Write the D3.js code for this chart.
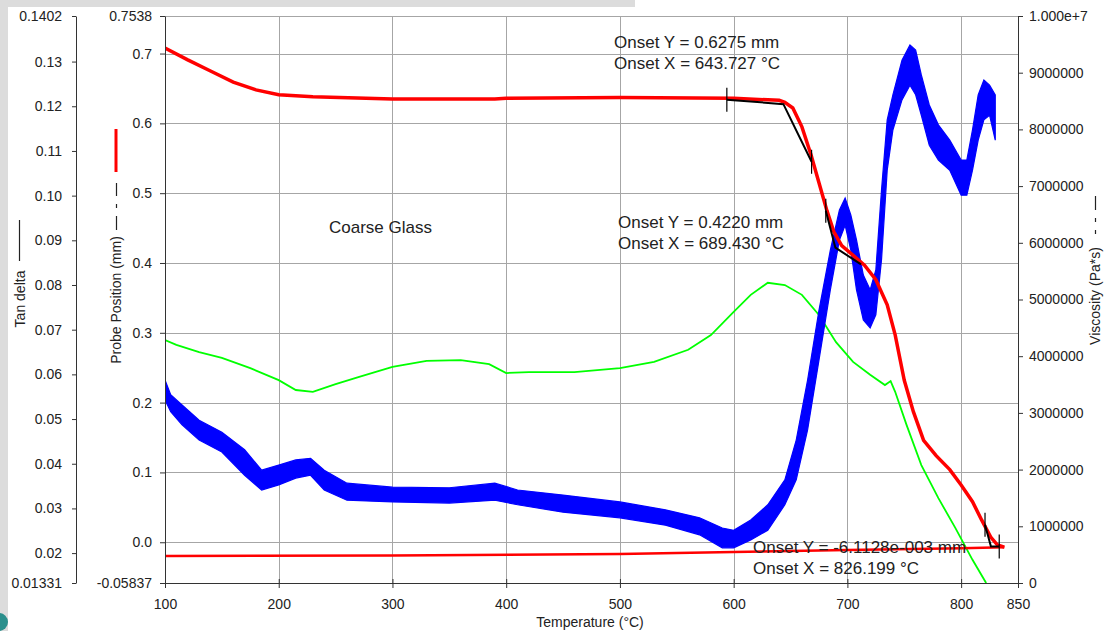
<!DOCTYPE html>
<html>
<head>
<meta charset="utf-8">
<script src="https://cdn.jsdelivr.net/npm/d3@7"></script>
<style>
  body { margin: 0; background: #fff; }
  svg { display: block; font-family: "Liberation Sans", Arial, sans-serif; }
  .axis text { font-size: 14px; fill: #222; }
  .axis path, .axis line { stroke: #333; }
  .grid line { stroke: #a6a6a6; stroke-width: 1; }
  .note { font-size: 17px; fill: #222; }
</style>
</head>
<body>
<svg id="chart" width="1104" height="631"></svg>
<script>
// ---- data ----
const tempTicks = [100, 200, 300, 400, 500, 600, 700, 800, 850];
const probeTicks = [-0.05837, 0, 0.1, 0.2, 0.3, 0.4, 0.5, 0.6, 0.7, 0.7538];
const probeTickLabels = ["-0.05837", "0.0", "0.1", "0.2", "0.3", "0.4", "0.5", "0.6", "0.7", "0.7538"];
const tanTicks = [0.01331, 0.02, 0.03, 0.04, 0.05, 0.06, 0.07, 0.08, 0.09, 0.10, 0.11, 0.12, 0.13, 0.1402];
const tanTickLabels = ["0.01331", "0.02", "0.03", "0.04", "0.05", "0.06", "0.07", "0.08", "0.09", "0.10", "0.11", "0.12", "0.13", "0.1402"];
const viscTicks = [0, 1e6, 2e6, 3e6, 4e6, 5e6, 6e6, 7e6, 8e6, 9e6, 1e7];
const viscTickLabels = ["0", "1000000", "2000000", "3000000", "4000000", "5000000", "6000000", "7000000", "8000000", "9000000", "1.000e+7"];

// probe position (mm), heating run
const probeTemp = [100, 120, 140, 160, 180, 200, 230, 300, 390, 400, 500, 600, 640, 645, 652, 660, 668, 675, 682, 688, 695,
                   705, 715, 725, 735, 742, 750, 758, 767, 778, 790, 800, 810, 818, 826, 832, 838];
const probePos = [0.708, 0.691, 0.675, 0.659, 0.648, 0.641, 0.638, 0.635, 0.635, 0.636, 0.637, 0.636, 0.633, 0.630, 0.622, 0.595, 0.555, 0.515, 0.475, 0.445, 0.425,
                  0.411, 0.397, 0.376, 0.340, 0.297, 0.232, 0.187, 0.146, 0.124, 0.104, 0.082, 0.058, 0.032, 0.0075, -0.004, -0.007];

// lower red trace
const baseTemp = [100, 300, 500, 600, 700, 800, 838];
const baseProbe = [-0.0197, -0.019, -0.017, -0.014, -0.011, -0.0085, -0.007];

// tan delta
const tanTemp = [100, 110, 130, 150, 175, 200, 215, 230, 250, 270, 300, 330, 360, 385, 400, 420, 460, 500, 530, 560,
                 580, 600, 615, 630, 645, 660, 675, 690, 705, 720, 733, 738, 742, 752, 765, 780, 795, 810, 822];
const tanDelta = [0.0677, 0.0666, 0.0650, 0.0637, 0.0614, 0.0587, 0.0565, 0.0561, 0.0578, 0.0594, 0.0617, 0.0630, 0.0632, 0.0623, 0.0603, 0.0605, 0.0605, 0.0614, 0.0628, 0.0655,
                  0.0688, 0.0740, 0.0778, 0.0805, 0.0800, 0.0778, 0.0733, 0.0672, 0.0628, 0.0599, 0.0576, 0.0585, 0.0561, 0.0487, 0.0397, 0.0323, 0.0256, 0.0185, 0.0133];

// viscosity (Pa*s), noisy trace kept as low / high envelope
const viscTemp = [100, 105, 115, 130, 150, 170, 185, 200, 215, 228, 240, 260, 300, 350, 390, 410, 450, 500, 540, 570,
                  590, 600, 615, 630, 645, 655, 665, 675, 685, 693, 698, 703, 708, 714, 720, 725, 730, 735, 740, 748,
                  755, 760, 765, 772, 780, 790, 800, 805, 810, 815, 820, 825, 830];
const viscHigh = [3.58e6, 3.32e6, 3.14e6, 2.87e6, 2.66e6, 2.35e6, 1.99e6, 2.08e6, 2.17e6, 2.20e6, 1.99e6, 1.76e6, 1.69e6, 1.68e6, 1.76e6, 1.64e6, 1.55e6, 1.43e6, 1.29e6, 1.15e6,
                  0.97e6, 0.93e6, 1.11e6, 1.38e6, 1.82e6, 2.52e6, 3.58e6, 4.81e6, 5.87e6, 6.58e6, 6.79e6, 6.49e6, 6.05e6, 5.43e6, 5.17e6, 5.52e6, 6.93e6, 8.17e6, 8.61e6, 9.22e6,
                  9.49e6, 9.40e6, 8.96e6, 8.43e6, 8.08e6, 7.81e6, 7.46e6, 7.46e6, 7.99e6, 8.61e6, 8.87e6, 8.78e6, 8.61e6];
const viscLow = [3.23e6, 3.02e6, 2.79e6, 2.52e6, 2.31e6, 1.90e6, 1.64e6, 1.73e6, 1.85e6, 1.90e6, 1.64e6, 1.46e6, 1.43e6, 1.41e6, 1.46e6, 1.38e6, 1.25e6, 1.15e6, 1.02e6, 0.85e6,
                 0.62e6, 0.62e6, 0.76e6, 0.93e6, 1.38e6, 1.82e6, 2.70e6, 3.93e6, 5.17e6, 6.05e6, 6.31e6, 5.87e6, 5.17e6, 4.64e6, 4.50e6, 4.73e6, 5.70e6, 7.28e6, 7.99e6, 8.52e6,
                 8.78e6, 8.61e6, 8.25e6, 7.72e6, 7.46e6, 7.28e6, 6.84e6, 6.84e6, 7.28e6, 7.81e6, 8.17e6, 8.25e6, 7.81e6];

// onset tangent constructions (temperature, probe position)
const onsetTemps = [[594, 643.727, 668.5], [681, 689.430, 712], [821, 826.199, 833.5]];
const onsetVals = [[0.634, 0.6275, 0.545], [0.475, 0.4220, 0.398], [0.025, -0.0061128, -0.0061128]];
const onsetText = [
  ["Onset Y = 0.6275 mm", "Onset X = 643.727 °C"],
  ["Onset Y = 0.4220 mm", "Onset X = 689.430 °C"],
  ["Onset Y = -6.1128e-003 mm", "Onset X = 826.199 °C"]
];

// ---- drawing ----
const svg = d3.select("#chart");
const mLeft = 165, mRight = 1018, mTop = 16, mBottom = 583;

const x = d3.scaleLinear().domain([100, 850]).range([mLeft, mRight]);
const yProbe = d3.scaleLinear().domain([-0.05837, 0.7538]).range([mBottom, mTop]);
const yTan = d3.scaleLinear().domain([0.01331, 0.1402]).range([mBottom, mTop]);
const yVisc = d3.scaleLinear().domain([0, 1e7]).range([mBottom, mTop]);

// page chrome (screenshot edges)
svg.append("rect").attr("x", 0).attr("y", 0).attr("width", 8).attr("height", 631).attr("fill", "#dcdcdc");
svg.append("rect").attr("x", 0).attr("y", 0).attr("width", 635).attr("height", 7).attr("fill", "#dcdcdc");
svg.append("circle").attr("cx", -1).attr("cy", 622).attr("r", 9).attr("fill", "#2a8f8c");

// grid
const grid = svg.append("g").attr("class", "grid");
grid.selectAll(".v").data(tempTicks.filter(d => d > 100 && d < 850)).enter().append("line")
  .attr("x1", d => Math.round(x(d)) + 0.5).attr("x2", d => Math.round(x(d)) + 0.5)
  .attr("y1", mTop).attr("y2", mBottom);
grid.selectAll(".h").data(probeTicks.filter(d => d >= 0 && d < 0.75)).enter().append("line")
  .attr("x1", mLeft).attr("x2", mRight)
  .attr("y1", d => Math.round(yProbe(d)) + 0.5).attr("y2", d => Math.round(yProbe(d)) + 0.5);
grid.append("line").attr("x1", mLeft).attr("x2", mRight).attr("y1", mTop + 0.5).attr("y2", mTop + 0.5);

// series
svg.append("clipPath").attr("id", "plot").append("rect")
  .attr("x", mLeft).attr("y", mTop).attr("width", mRight - mLeft + 2).attr("height", mBottom - mTop);
const plot = svg.append("g").attr("clip-path", "url(#plot)");

plot.append("path")
  .datum(tanTemp.map((t, i) => [t, tanDelta[i]]))
  .attr("fill", "none").attr("stroke", "#00ff00").attr("stroke-width", 1.8)
  .attr("d", d3.line().x(d => x(d[0])).y(d => yTan(d[1])));

const viscData = viscTemp.map((t, i) => ({ t, lo: viscLow[i], hi: viscHigh[i] }));
plot.append("path")
  .datum(viscData)
  .attr("fill", "#0000ff").attr("stroke", "#0000ff").attr("stroke-width", 1.2)
  .attr("d", d3.area().x(d => x(d.t)).y0(d => yVisc(d.lo)).y1(d => yVisc(d.hi)));

plot.append("path")
  .datum(baseTemp.map((t, i) => [t, baseProbe[i]]))
  .attr("fill", "none").attr("stroke", "#ff0000").attr("stroke-width", 2.5)
  .attr("d", d3.line().x(d => x(d[0])).y(d => yProbe(d[1])));

plot.append("path")
  .datum(probeTemp.map((t, i) => [t, probePos[i]]))
  .attr("fill", "none").attr("stroke", "#ff0000").attr("stroke-width", 3.5)
  .attr("d", d3.line().x(d => x(d[0])).y(d => yProbe(d[1])));

// onset constructions
onsetTemps.forEach((temps, k) => {
  const pts = temps.map((t, i) => [t, onsetVals[k][i]]);
  svg.append("path").datum(pts)
    .attr("fill", "none").attr("stroke", "#000").attr("stroke-width", 2)
    .attr("d", d3.line().x(d => x(d[0])).y(d => yProbe(d[1])));
  const ends = k === 1 ? [pts[0]] : [pts[0], pts[pts.length - 1]];
  svg.selectAll(null).data(ends).enter().append("line")
    .attr("x1", d => x(d[0])).attr("x2", d => x(d[0]))
    .attr("y1", d => yProbe(d[1]) - 12).attr("y2", d => yProbe(d[1]) + 12)
    .attr("stroke", "#000").attr("stroke-width", 1.2);
});

// axes
const xAxis = svg.append("g").attr("class", "axis")
  .attr("transform", `translate(0,${mBottom})`)
  .call(d3.axisBottom(x).tickValues(tempTicks).tickFormat(d3.format("d")).tickSize(5).tickSizeOuter(0).tickPadding(11));
xAxis.selectAll(".tick line").attr("y1", -4);

svg.append("g").attr("class", "axis")
  .attr("transform", `translate(${mLeft},0)`)
  .call(d3.axisLeft(yProbe).tickValues(probeTicks).tickFormat((d, i) => probeTickLabels[i]).tickSize(5).tickSizeOuter(0).tickPadding(8));

svg.append("g").attr("class", "axis")
  .attr("transform", "translate(76,0)")
  .call(d3.axisLeft(yTan).tickValues(tanTicks).tickFormat((d, i) => tanTickLabels[i]).tickSize(4).tickSizeOuter(0).tickPadding(10));

svg.append("g").attr("class", "axis")
  .attr("transform", `translate(${mRight},0)`)
  .call(d3.axisRight(yVisc).tickValues(viscTicks).tickFormat((d, i) => viscTickLabels[i]).tickSize(5).tickSizeOuter(0).tickPadding(6));

// axis titles with legend keys
svg.append("text").attr("transform", "translate(590,627)").attr("text-anchor", "middle")
  .style("font-size", "14px").attr("fill", "#222").text("Temperature (°C)");

svg.append("text").attr("transform", "translate(25,299) rotate(-90)").attr("text-anchor", "middle")
  .style("font-size", "14px").attr("fill", "#222").text("Tan delta");
svg.append("line").attr("x1", 19.5).attr("x2", 19.5).attr("y1", 220).attr("y2", 261).attr("stroke", "#222").attr("stroke-width", 1.2);

svg.append("text").attr("transform", "translate(121,300) rotate(-90)").attr("text-anchor", "middle")
  .style("font-size", "14px").attr("fill", "#222").text("Probe Position (mm)");
svg.append("line").attr("x1", 116.5).attr("x2", 116.5).attr("y1", 183).attr("y2", 230)
  .attr("stroke", "#222").attr("stroke-width", 1.2).attr("stroke-dasharray", "13,8,4,8,14");
svg.append("line").attr("x1", 116).attr("x2", 116).attr("y1", 129).attr("y2", 172).attr("stroke", "#ff0000").attr("stroke-width", 3);

svg.append("text").attr("transform", "translate(1100,296) rotate(-90)").attr("text-anchor", "middle")
  .style("font-size", "14px").attr("fill", "#222").text("Viscosity (Pa*s)");
svg.append("line").attr("x1", 1095.5).attr("x2", 1095.5).attr("y1", 196).attr("y2", 240)
  .attr("stroke", "#222").attr("stroke-width", 1.2).attr("stroke-dasharray", "14,8,4,8,4");

// annotations
svg.append("text").attr("class", "note").attr("x", 329).attr("y", 233).text("Coarse Glass");
const notePos = [[614, 48], [618, 228], [753, 553]];
onsetText.forEach((lines, k) => {
  lines.forEach((s, j) => {
    svg.append("text").attr("class", "note")
      .attr("x", notePos[k][0]).attr("y", notePos[k][1] + j * 20.5).text(s);
  });
});
</script>
</body>
</html>
